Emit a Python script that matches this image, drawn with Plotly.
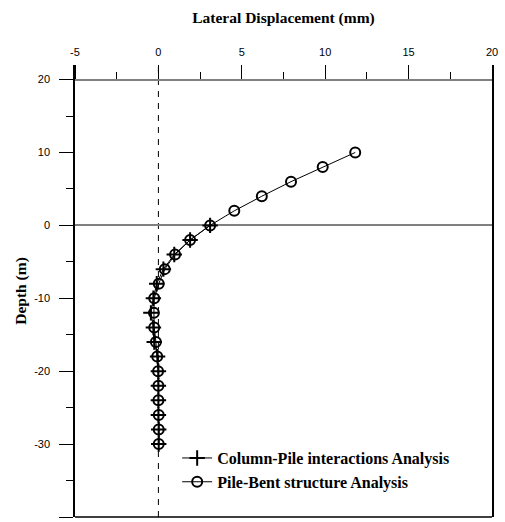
import plotly.graph_objects as go

# Depths (m)
depth_bent = [10, 8, 6, 4, 2, 0, -2, -4, -6, -8, -10, -12, -14, -16, -18, -20, -22, -24, -26, -28, -30]
disp_bent = [11.8, 9.85, 7.95, 6.2, 4.55, 3.1, 1.9, 1.0, 0.38, 0.02, -0.25, -0.27, -0.25, -0.15, -0.07, -0.02, 0.0, 0.0, 0.02, 0.02, 0.02]

depth_col = [0, -2, -4, -6, -8, -10, -12, -14, -16, -18, -20, -22, -24, -26, -28, -30]
disp_col = [3.1, 1.9, 0.95, 0.3, -0.1, -0.3, -0.45, -0.3, -0.25, -0.05, 0.0, 0.0, 0.0, 0.0, 0.02, 0.02]

x_ticks = [-5, 0, 5, 10, 15, 20]
x_labels = ["-5", "0", "5", "10", "15", "20"]
y_ticks = [-40, -30, -20, -10, 0, 10, 20]
y_labels = ["-40", "-30", "-20", "-10", "0", "10", "20"]

serif = "Liberation Serif, Times New Roman, serif"
sans = "Liberation Sans, Arial, sans-serif"

fig = go.Figure()
fig.add_trace(go.Scatter(
    x=disp_col, y=depth_col, mode="lines+markers",
    name="<b>Column-Pile interactions Analysis</b>",
    line=dict(color="black", width=1),
    marker=dict(symbol="cross-thin-open", size=11, line=dict(color="black", width=2)),
))
fig.add_trace(go.Scatter(
    x=disp_bent, y=depth_bent, mode="lines+markers",
    name="<b>Pile-Bent structure Analysis</b>",
    line=dict(color="black", width=1),
    marker=dict(symbol="circle-open", size=10, line=dict(color="black", width=2)),
))

y_min, y_max = -40, 22
fig.update_layout(
    width=505, height=522,
    margin=dict(l=75, r=13, t=65, b=5),
    paper_bgcolor="white", plot_bgcolor="white",
    showlegend=True,
    legend=dict(x=0.245, y=0.168, xanchor="left", yanchor="top",
                bgcolor="rgba(0,0,0,0)", borderwidth=0,
                font=dict(family=serif, size=16, color="black"),
                tracegroupgap=0),
    xaxis=dict(
        range=[-5, 20], side="top", anchor="free",
        position=(20 - y_min) / (y_max - y_min),
        tickvals=x_ticks, ticktext=x_labels,
        ticks="outside", ticklen=14, tickwidth=1, tickcolor="black",
        ticklabelstandoff=4,
        minor=dict(dtick=2.5, tick0=0, ticks="outside", ticklen=7, tickwidth=1, tickcolor="black"),
        showline=True, linecolor="#808080", linewidth=2,
        showgrid=False, zeroline=False,
        tickfont=dict(family=sans, size=11, color="black"),
        title=dict(text="<b>Lateral Displacement (mm)</b>",
                   font=dict(family=serif, size=15.5, color="black"), standoff=18),
    ),
    yaxis=dict(
        range=[y_min, y_max],
        tickvals=y_ticks, ticktext=y_labels,
        ticks="outside", ticklen=14, tickwidth=1, tickcolor="black",
        ticklabelstandoff=7,
        minor=dict(dtick=5, tick0=0, ticks="outside", ticklen=7, tickwidth=1, tickcolor="black"),
        showline=True, linecolor="black", linewidth=1.5, mirror=True,
        showgrid=False,
        zeroline=True, zerolinecolor="#808080", zerolinewidth=2,
        tickfont=dict(family=sans, size=11, color="black"),
        title=dict(text="<b>Depth (m)</b>",
                   font=dict(family=serif, size=15.5, color="black"), standoff=4),
    ),
    shapes=[
        dict(type="line", xref="x", yref="paper", x0=0, x1=0, y0=0, y1=1,
             line=dict(color="black", width=1, dash="6px,6px"), layer="below"),
        dict(type="line", xref="paper", yref="paper", x0=0, x1=1, y0=0, y1=0,
             line=dict(color="black", width=1.5)),
    ],
)

fig.write_html("out.html")
